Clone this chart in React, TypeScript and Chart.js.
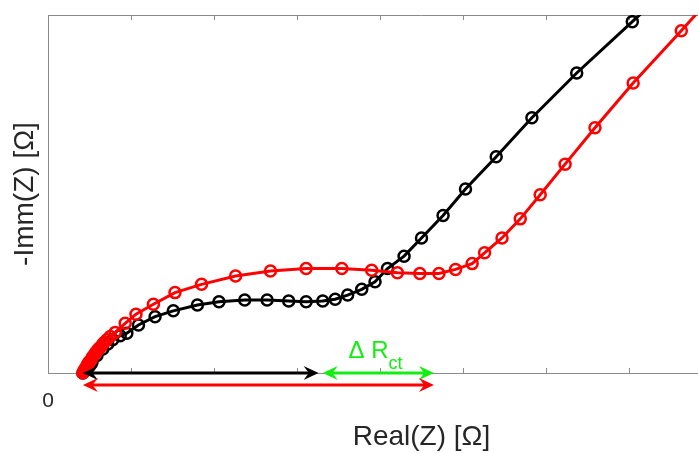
import React, { useEffect, useRef } from 'react';
import { Chart, registerables } from 'chart.js';

Chart.register(...registerables);

// Nyquist data (arbitrary units, one x tick = 1 unit)
const blackRe = [0.42, 0.47, 0.53, 0.59, 0.66, 0.72, 0.78, 0.87, 0.95, 1.09, 1.29, 1.51, 1.80, 2.06, 2.37, 2.64, 2.90, 3.11, 3.31, 3.46, 3.61, 3.78, 3.94, 4.09, 4.29, 4.50, 4.76, 5.03, 5.40, 5.83, 6.37, 7.04, 7.75];
const blackIm = [0.00, 0.06, 0.13, 0.21, 0.29, 0.35, 0.40, 0.45, 0.48, 0.58, 0.68, 0.75, 0.82, 0.86, 0.88, 0.88, 0.87, 0.86, 0.87, 0.89, 0.94, 1.01, 1.10, 1.26, 1.41, 1.63, 1.90, 2.22, 2.61, 3.08, 3.62, 4.24, 4.90];

const redRe = [0.42, 0.43, 0.44, 0.45, 0.46, 0.47, 0.48, 0.49, 0.50, 0.52, 0.53, 0.54, 0.56, 0.57, 0.59, 0.60, 0.62, 0.64, 0.66, 0.68, 0.71, 0.75, 0.81, 0.93, 1.06, 1.27, 1.53, 1.85, 2.26, 2.68, 3.11, 3.54, 3.90, 4.21, 4.48, 4.71, 4.91, 5.11, 5.26, 5.47, 5.69, 5.93, 6.23, 6.59, 7.05, 7.63, 8.23];
const redIm = [0.00, 0.02, 0.04, 0.05, 0.07, 0.09, 0.11, 0.12, 0.14, 0.16, 0.18, 0.20, 0.22, 0.24, 0.26, 0.28, 0.30, 0.32, 0.35, 0.37, 0.40, 0.44, 0.49, 0.60, 0.71, 0.83, 0.97, 1.07, 1.17, 1.23, 1.26, 1.26, 1.24, 1.21, 1.20, 1.20, 1.25, 1.32, 1.45, 1.63, 1.86, 2.15, 2.52, 2.96, 3.50, 4.13, 4.80];

const xMin = 0;
const xMax = 9;
const yMin = 0;
const yMax = 4.32;
const xTickLabels = ['0', '', '', '', '', '', '', '', '', ''];

// Annotation arrows [start, end] on the real axis
const arrowBlackSpan = [0.42, 3.26];
const arrowGreenSpan = [3.31, 4.65];
const arrowRedSpan = [0.42, 4.65];
const arrowRedLevel = -0.145;
const deltaLabelPos = [3.62, 0.18];
const deltaMain = 'Δ R';
const deltaSub = 'ct';

const FONT = "'Liberation Sans', Arial, sans-serif";
const AXIS_GRAY = '#8a8a8a';
const TEXT_COLOR = '#262626';
const GREEN = '#12ee12';

function drawHead(ctx: CanvasRenderingContext2D, x: number, y: number, dir: number) {
  const L = 15;
  const W = 7;
  ctx.beginPath();
  ctx.moveTo(x, y);
  ctx.lineTo(x - dir * L, y - W);
  ctx.lineTo(x - dir * L * 0.65, y);
  ctx.lineTo(x - dir * L, y + W);
  ctx.closePath();
  ctx.fill();
}

function drawArrow(ctx: CanvasRenderingContext2D, x1: number, x2: number, y: number, color: string) {
  ctx.save();
  ctx.strokeStyle = color;
  ctx.fillStyle = color;
  ctx.lineWidth = 3;
  ctx.beginPath();
  ctx.moveTo(x1 + 6, y);
  ctx.lineTo(x2 - 6, y);
  ctx.stroke();
  drawHead(ctx, x2, y, 1);
  drawHead(ctx, x1, y, -1);
  ctx.restore();
}

const framePlugin = {
  id: 'frame',
  beforeDatasetsDraw(chart: any) {
    const { ctx, chartArea } = chart;
    const xs = chart.scales.x;
    ctx.save();
    ctx.strokeStyle = AXIS_GRAY;
    ctx.lineWidth = 1;
    ctx.beginPath();
    ctx.moveTo(chartArea.left, chartArea.top + 0.5);
    ctx.lineTo(chartArea.right, chartArea.top + 0.5);
    for (const t of xs.ticks) {
      if (t.value <= xMin || t.value >= xMax) continue;
      const px = Math.round(xs.getPixelForValue(t.value)) + 0.5;
      ctx.moveTo(px, chartArea.top);
      ctx.lineTo(px, chartArea.top + 5);
      ctx.moveTo(px, chartArea.bottom);
      ctx.lineTo(px, chartArea.bottom - 5);
    }
    ctx.stroke();
    ctx.restore();
  },
  afterDatasetsDraw(chart: any) {
    const { ctx } = chart;
    const xs = chart.scales.x;
    const ys = chart.scales.y;
    const y0 = ys.getPixelForValue(0);
    drawArrow(ctx, xs.getPixelForValue(arrowBlackSpan[0]), xs.getPixelForValue(arrowBlackSpan[1]), y0, '#000000');
    drawArrow(ctx, xs.getPixelForValue(arrowGreenSpan[0]), xs.getPixelForValue(arrowGreenSpan[1]), y0, GREEN);
    drawArrow(ctx, xs.getPixelForValue(arrowRedSpan[0]), xs.getPixelForValue(arrowRedSpan[1]), ys.getPixelForValue(arrowRedLevel), '#ff0000');
    ctx.save();
    ctx.fillStyle = GREEN;
    ctx.textBaseline = 'alphabetic';
    ctx.textAlign = 'left';
    const lx = xs.getPixelForValue(deltaLabelPos[0]);
    const ly = ys.getPixelForValue(deltaLabelPos[1]);
    ctx.font = `24px ${FONT}`;
    ctx.fillText(deltaMain, lx, ly);
    const w = ctx.measureText(deltaMain).width;
    ctx.font = `18px ${FONT}`;
    ctx.fillText(deltaSub, lx + w, ly + 11);
    ctx.restore();
  },
};

export default function App() {
  const ref = useRef<HTMLCanvasElement | null>(null);

  useEffect(() => {
    if (!ref.current) return;
    const common = {
      showLine: true,
      borderWidth: 3,
      pointRadius: 5.5,
      pointBorderWidth: 2.5,
      pointBackgroundColor: 'rgba(0,0,0,0)',
      clip: { left: 10, right: 10, top: 0, bottom: 10 } as any,
    };
    const chart = new Chart(ref.current, {
      type: 'scatter',
      data: {
        datasets: [
          {
            label: 'red',
            data: redRe.map((x, i) => ({ x, y: redIm[i] })),
            borderColor: '#ff0000',
            pointBorderColor: '#ff0000',
            ...common,
          },
          {
            label: 'black',
            data: blackRe.map((x, i) => ({ x, y: blackIm[i] })),
            borderColor: '#000000',
            pointBorderColor: '#000000',
            ...common,
          },
        ],
      },
      options: {
        animation: false,
        responsive: false,
        devicePixelRatio: 1,
        events: [],
        layout: { autoPadding: false, padding: { top: 15, right: 5, bottom: 0, left: 0 } },
        plugins: { legend: { display: false }, tooltip: { enabled: false } },
        scales: {
          x: {
            type: 'linear',
            min: xMin,
            max: xMax,
            afterFit: (s: any) => { s.height = 81; s.paddingLeft = 0; s.paddingRight = 0; },
            grid: { display: true, drawOnChartArea: false, drawTicks: false },
            border: { display: true, color: AXIS_GRAY, width: 1 },
            ticks: {
              stepSize: 1,
              autoSkip: false,
              maxRotation: 0,
              padding: 16,
              color: TEXT_COLOR,
              font: { family: FONT, size: 21 },
              callback: (v: any, i: number) => xTickLabels[i] ?? '',
            },
            title: {
              display: true,
              text: 'Real(Z) [Ω]',
              color: TEXT_COLOR,
              font: { family: FONT, size: 28 },
              padding: { top: 0, bottom: 0 },
            },
          },
          y: {
            type: 'linear',
            min: yMin,
            max: yMax,
            afterFit: (s: any) => { s.width = 48; },
            grid: { display: true, drawOnChartArea: false, drawTicks: false },
            border: { display: true, color: AXIS_GRAY, width: 1 },
            ticks: { display: false },
            title: {
              display: true,
              text: '-Imm(Z) [Ω]',
              color: TEXT_COLOR,
              font: { family: FONT, size: 28 },
              padding: { top: 8, bottom: 0 },
            },
          },
        },
      },
      plugins: [framePlugin],
    });
    return () => chart.destroy();
  }, []);

  return (
    <div style={{ position: 'absolute', left: 0, top: 0, width: 698, height: 454, overflow: 'hidden', background: '#fff' }}>
      <canvas ref={ref} width={800} height={454} style={{ display: 'block' }} />
    </div>
  );
}
